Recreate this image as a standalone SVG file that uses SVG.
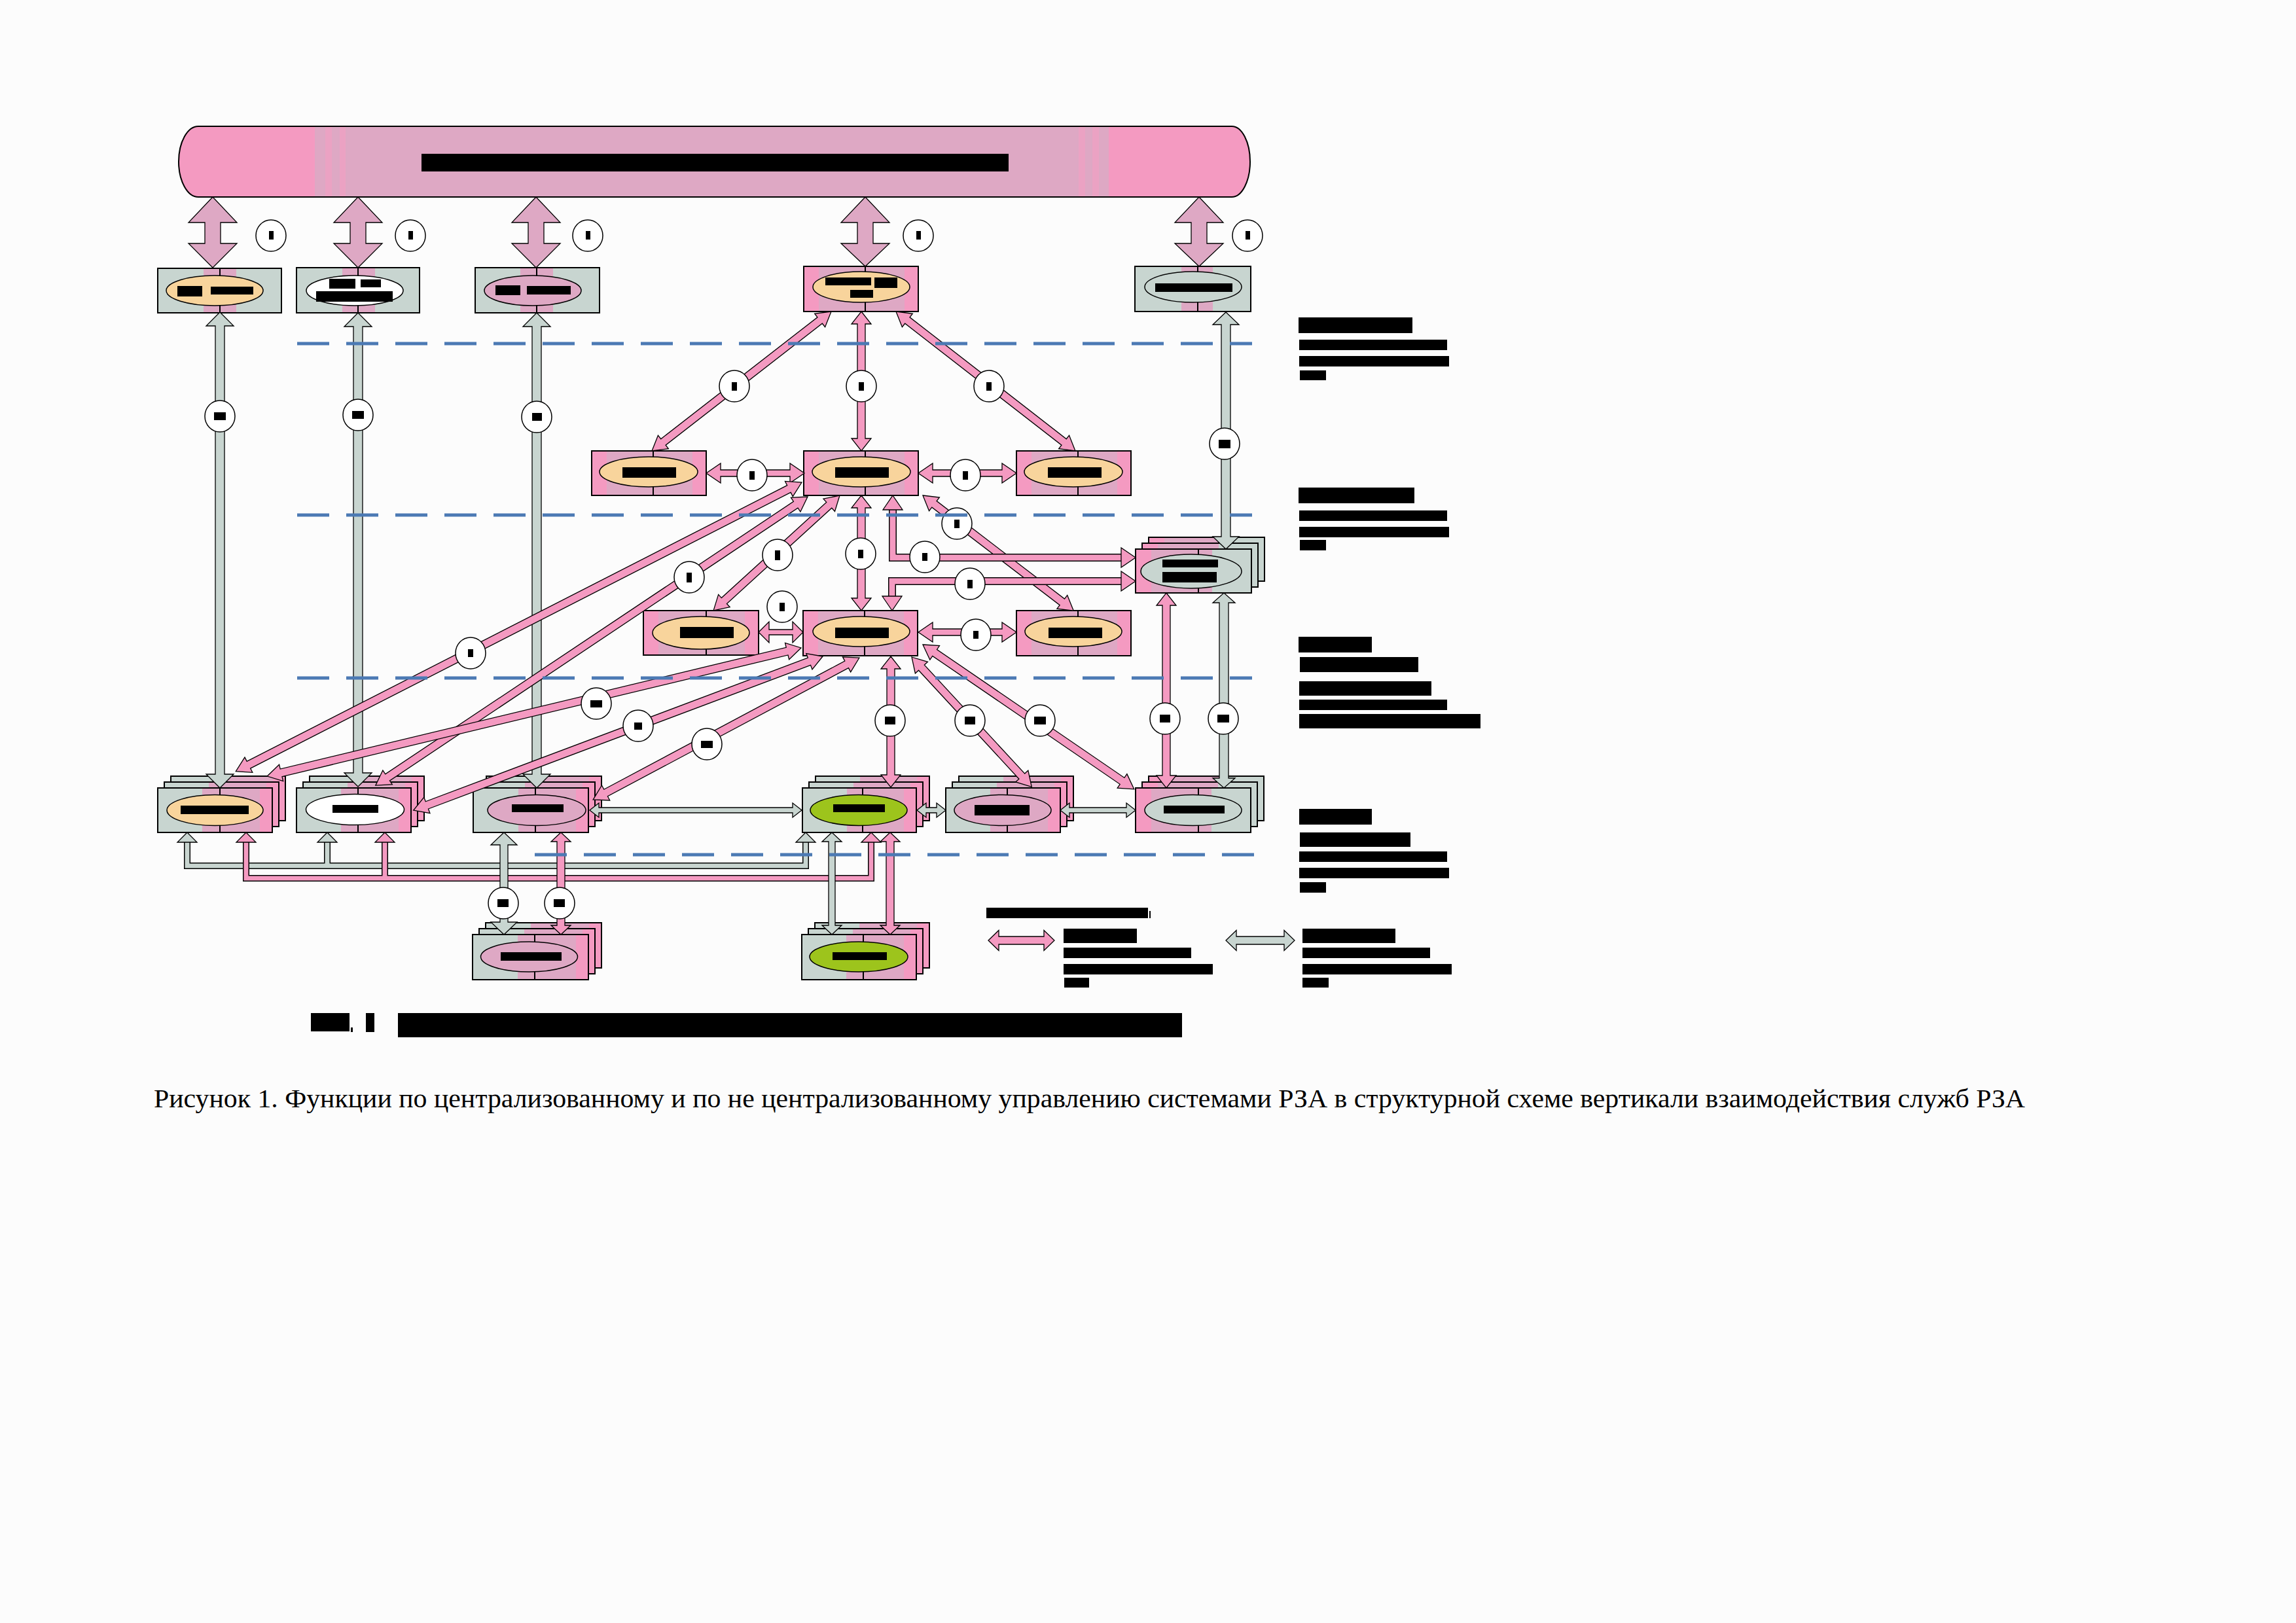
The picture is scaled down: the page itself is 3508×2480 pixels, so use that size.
<svg xmlns="http://www.w3.org/2000/svg" width="3508" height="2480" viewBox="0 0 3508 2480">
<defs>
<style>
.bx{stroke:#000;stroke-width:2}
.el{stroke:#000;stroke-width:1.5}
.cl{stroke:#000;stroke-width:2}
.ap{fill:#F49AC1;stroke:#000;stroke-width:1.3}
.ag{fill:#C8D5D0;stroke:#000;stroke-width:1.3}
.am{fill:#DEA8C4;stroke:#000;stroke-width:1.3}
.lb{fill:#fff;stroke:#000;stroke-width:1.5}
.dl{stroke:#4C7AB4;stroke-width:5;stroke-dasharray:49 26;fill:none}
.k{fill:#000}
.gy{fill:#C8D5D0}.mv{fill:#DEA8C4}.pk{fill:#F49AC1}.or{fill:#F8D49C}.wh{fill:#fff}.gn{fill:#9DC41C}
.fgp{fill:url(#gGP)}.fpg{fill:url(#gPG)}.fpk{fill:url(#gPK)}
.ob{fill:none;stroke:#000;stroke-linejoin:miter}
.cap{font-family:"Liberation Serif","Times New Roman",serif;font-size:39px;fill:#000}
</style>
<linearGradient id="gGP" x1="0" y1="0" x2="1" y2="0">
<stop offset="0" stop-color="#C8D5D0"/><stop offset="0.39" stop-color="#C8D5D0"/>
<stop offset="0.39" stop-color="#DEA8C4"/><stop offset="0.89" stop-color="#DEA8C4"/>
<stop offset="0.89" stop-color="#F49AC1"/><stop offset="1" stop-color="#F49AC1"/>
</linearGradient>
<linearGradient id="gPG" x1="0" y1="0" x2="1" y2="0">
<stop offset="0" stop-color="#F49AC1"/><stop offset="0.135" stop-color="#F49AC1"/>
<stop offset="0.135" stop-color="#DEA8C4"/><stop offset="0.66" stop-color="#DEA8C4"/>
<stop offset="0.66" stop-color="#C8D5D0"/><stop offset="1" stop-color="#C8D5D0"/>
</linearGradient>
<linearGradient id="gPK" x1="0" y1="0" x2="1" y2="0">
<stop offset="0" stop-color="#F49AC1"/><stop offset="0.13" stop-color="#F49AC1"/>
<stop offset="0.13" stop-color="#DEA8C4"/><stop offset="0.88" stop-color="#DEA8C4"/>
<stop offset="0.88" stop-color="#F49AC1"/><stop offset="1" stop-color="#F49AC1"/>
</linearGradient>
<linearGradient id="gBN" x1="0" y1="0" x2="1" y2="0">
<stop offset="0" stop-color="#F49AC1"/><stop offset="0.127" stop-color="#F49AC1"/>
<stop offset="0.127" stop-color="#DEA8C4"/><stop offset="0.137" stop-color="#DEA8C4"/>
<stop offset="0.137" stop-color="#EBA2C3"/><stop offset="0.143" stop-color="#EBA2C3"/>
<stop offset="0.143" stop-color="#DEA8C4"/><stop offset="0.150" stop-color="#DEA8C4"/>
<stop offset="0.150" stop-color="#EBA2C3"/><stop offset="0.156" stop-color="#EBA2C3"/>
<stop offset="0.156" stop-color="#DEA8C4"/><stop offset="0.840" stop-color="#DEA8C4"/>
<stop offset="0.840" stop-color="#EBA2C3"/><stop offset="0.846" stop-color="#EBA2C3"/>
<stop offset="0.846" stop-color="#DEA8C4"/><stop offset="0.853" stop-color="#DEA8C4"/>
<stop offset="0.853" stop-color="#EBA2C3"/><stop offset="0.859" stop-color="#EBA2C3"/>
<stop offset="0.859" stop-color="#DEA8C4"/><stop offset="0.868" stop-color="#DEA8C4"/>
<stop offset="0.868" stop-color="#F49AC1"/><stop offset="1" stop-color="#F49AC1"/>
</linearGradient>
</defs>

<rect x="0" y="0" width="3508" height="2480" fill="#FCFCFC"/>

<!-- banner -->
<g id="banner">
<path class="bx" fill="url(#gBN)" d="M303 193 H1882 A28 54 0 0 1 1882 301 H303 A30 54 0 0 1 303 193 Z"/>
<rect class="k" x="644" y="235" width="897" height="27"/>
</g>

<!-- top row nodes -->
<g id="n1">
<rect class="bx gy" x="241" y="410" width="189" height="68"/>
<rect class="mv" x="311" y="411" width="50" height="66"/>
<line class="cl" x1="336" y1="410" x2="336" y2="478"/>
<ellipse class="el or" cx="328" cy="444" rx="74" ry="23"/>
<rect class="k" x="271" y="437" width="38" height="16"/>
<rect class="k" x="322" y="438" width="65" height="12"/>
</g>
<g id="n2">
<rect class="bx gy" x="453" y="409" width="188" height="69"/>
<rect class="mv" x="523" y="410" width="50" height="67"/>
<line class="cl" x1="547" y1="409" x2="547" y2="478"/>
<ellipse class="el wh" cx="542" cy="444" rx="74" ry="23"/>
<rect class="k" x="503" y="426" width="40" height="15"/>
<rect class="k" x="551" y="427" width="31" height="12"/>
<rect class="k" x="483" y="445" width="117" height="16"/>
</g>
<g id="n3">
<rect class="bx gy" x="726" y="409" width="190" height="69"/>
<rect class="mv" x="795" y="410" width="50" height="67"/>
<line class="cl" x1="820" y1="409" x2="820" y2="478"/>
<ellipse class="el mv" cx="814" cy="444" rx="74" ry="23"/>
<rect class="k" x="757" y="436" width="38" height="15"/>
<rect class="k" x="805" y="437" width="67" height="13"/>
</g>
<g id="n4">
<rect class="bx fpk" x="1228" y="407" width="175" height="69"/>
<line class="cl" x1="1322" y1="407" x2="1322" y2="476"/>
<ellipse class="el or" cx="1316" cy="438.5" rx="74" ry="23.5"/>
<rect class="k" x="1261" y="424" width="70" height="12"/>
<rect class="k" x="1336" y="424" width="35" height="16"/>
<rect class="k" x="1299" y="443" width="35" height="12"/>
</g>
<g id="n5">
<rect class="bx gy" x="1734" y="407" width="177" height="69"/>
<rect class="mv" x="1805" y="408" width="48" height="67"/>
<line class="cl" x1="1830" y1="407" x2="1830" y2="476"/>
<ellipse class="el gy" cx="1823" cy="438.5" rx="74" ry="23.5"/>
<rect class="k" x="1765" y="433" width="118" height="13"/>
</g>

<!-- middle row -->
<g id="m1">
<rect class="bx fpk" x="904" y="689" width="175" height="68"/>
<line class="cl" x1="998" y1="689" x2="998" y2="757"/>
<ellipse class="el or" cx="991" cy="721" rx="75" ry="23"/>
<rect class="k" x="951" y="714" width="82" height="16"/>
</g>
<g id="m2">
<rect class="bx fpk" x="1228" y="689" width="175" height="68"/>
<line class="cl" x1="1322" y1="689" x2="1322" y2="757"/>
<ellipse class="el or" cx="1316" cy="721" rx="75" ry="23"/>
<rect class="k" x="1276" y="714" width="82" height="16"/>
</g>
<g id="m3">
<rect class="bx fpk" x="1553" y="689" width="175" height="68"/>
<line class="cl" x1="1647" y1="689" x2="1647" y2="757"/>
<ellipse class="el or" cx="1640" cy="721" rx="75" ry="23"/>
<rect class="k" x="1601" y="714" width="82" height="16"/>
</g>
<g id="l1">
<rect class="bx fpk" x="983" y="933" width="176" height="68"/>
<line class="cl" x1="1079" y1="933" x2="1079" y2="1001"/>
<ellipse class="el or" cx="1071" cy="967" rx="74" ry="25"/>
<rect class="k" x="1039" y="958" width="82" height="17"/>
</g>
<g id="l2">
<rect class="bx fpk" x="1227" y="933" width="175" height="69"/>
<line class="cl" x1="1321" y1="933" x2="1321" y2="1002"/>
<ellipse class="el or" cx="1316" cy="965" rx="74" ry="23"/>
<rect class="k" x="1276" y="959" width="82" height="16"/>
</g>
<g id="l3">
<rect class="bx fpk" x="1553" y="933" width="175" height="69"/>
<line class="cl" x1="1647" y1="933" x2="1647" y2="1002"/>
<ellipse class="el or" cx="1640" cy="965" rx="74" ry="23"/>
<rect class="k" x="1602" y="959" width="82" height="16"/>
</g>
<g id="r1">
<rect class="bx fpg" x="1755" y="821" width="177" height="67"/>
<rect class="bx fpg" x="1745" y="830" width="177" height="67"/>
<rect class="bx fpg" x="1735" y="839" width="177" height="67"/>
<line class="cl" x1="1831" y1="839" x2="1831" y2="906"/>
<ellipse class="el gy" cx="1820" cy="873" rx="77" ry="26"/>
<rect class="k" x="1776" y="855" width="85" height="12"/>
<rect class="k" x="1776" y="874" width="83" height="16"/>
</g>

<!-- bottom row -->
<g id="b1">
<rect class="bx fgp" x="261" y="1186" width="175" height="68"/>
<rect class="bx fgp" x="251" y="1195" width="175" height="68"/>
<rect class="bx fgp" x="241" y="1204" width="175" height="68"/>
<line class="cl" x1="336" y1="1204" x2="336" y2="1272"/>
<ellipse class="el or" cx="328.5" cy="1238" rx="73.5" ry="23.5"/>
<rect class="k" x="276" y="1231" width="104" height="13"/>
</g>
<g id="b2">
<rect class="bx fgp" x="473" y="1186" width="175" height="68"/>
<rect class="bx fgp" x="463" y="1195" width="175" height="68"/>
<rect class="bx fgp" x="453" y="1204" width="175" height="68"/>
<line class="cl" x1="547" y1="1204" x2="547" y2="1272"/>
<ellipse class="el wh" cx="542.5" cy="1237" rx="75" ry="23.5"/>
<rect class="k" x="508" y="1230" width="70" height="12"/>
</g>
<g id="b3">
<rect class="bx fgp" x="743" y="1186" width="176" height="68"/>
<rect class="bx fgp" x="733" y="1195" width="176" height="68"/>
<rect class="bx fgp" x="723" y="1204" width="176" height="68"/>
<line class="cl" x1="818" y1="1204" x2="818" y2="1272"/>
<ellipse class="el mv" cx="820" cy="1238" rx="75" ry="23.5"/>
<rect class="k" x="782" y="1229" width="79" height="12"/>
</g>
<g id="b4">
<rect class="bx fgp" x="1246" y="1186" width="174" height="68"/>
<rect class="bx fgp" x="1236" y="1195" width="174" height="68"/>
<rect class="bx fgp" x="1226" y="1204" width="174" height="68"/>
<line class="cl" x1="1318" y1="1204" x2="1318" y2="1272"/>
<ellipse class="el gn" cx="1312" cy="1238" rx="74" ry="23.5"/>
<rect class="k" x="1273" y="1229" width="79" height="12"/>
</g>
<g id="b5">
<rect class="bx fgp" x="1465" y="1186" width="175" height="68"/>
<rect class="bx fgp" x="1455" y="1195" width="175" height="68"/>
<rect class="bx fgp" x="1445" y="1204" width="175" height="68"/>
<line class="cl" x1="1539" y1="1204" x2="1539" y2="1272"/>
<ellipse class="el mv" cx="1532" cy="1238" rx="74" ry="23.5"/>
<rect class="k" x="1489" y="1230" width="84" height="16"/>
</g>
<g id="b6">
<rect class="bx fpg" x="1755" y="1186" width="176" height="68"/>
<rect class="bx fpg" x="1745" y="1195" width="176" height="68"/>
<rect class="bx fpg" x="1735" y="1204" width="176" height="68"/>
<line class="cl" x1="1831" y1="1204" x2="1831" y2="1272"/>
<ellipse class="el gy" cx="1823" cy="1238" rx="74" ry="23.5"/>
<rect class="k" x="1778" y="1231" width="93" height="12"/>
</g>
<g id="b7">
<rect class="bx fgp" x="742" y="1410" width="177" height="69"/>
<rect class="bx fgp" x="732" y="1419" width="177" height="69"/>
<rect class="bx fgp" x="722" y="1428" width="177" height="69"/>
<line class="cl" x1="817" y1="1428" x2="817" y2="1497"/>
<ellipse class="el mv" cx="808.5" cy="1462" rx="74" ry="23"/>
<rect class="k" x="765" y="1455" width="93" height="13"/>
</g>
<g id="b8">
<rect class="bx fgp" x="1245" y="1410" width="175" height="69"/>
<rect class="bx fgp" x="1235" y="1419" width="175" height="69"/>
<rect class="bx fgp" x="1225" y="1428" width="175" height="69"/>
<line class="cl" x1="1319" y1="1428" x2="1319" y2="1497"/>
<ellipse class="el gn" cx="1312" cy="1462" rx="75" ry="23"/>
<rect class="k" x="1272" y="1455" width="83" height="12"/>
</g>

<!-- connectors -->
<g id="connectors">
<!-- banner arrows -->
<polygon class="am" points="325,301 362,340 337,340 337,372 362,372 325,409 288,372 313,372 313,340 288,340"/>
<polygon class="am" points="547,301 584,340 559,340 559,372 584,372 547,409 510,372 535,372 535,340 510,340"/>
<polygon class="am" points="819,301 856,340 831,340 831,372 856,372 819,409 782,372 807,372 807,340 782,340"/>
<polygon class="am" points="1322,301 1359,340 1334,340 1334,372 1359,372 1322,407 1285,372 1310,372 1310,340 1285,340"/>
<polygon class="am" points="1832,301 1869,340 1844,340 1844,372 1869,372 1832,407 1795,372 1820,372 1820,340 1795,340"/>

<!-- gray long verticals -->
<polygon class="ag" transform="translate(336 477) rotate(90)" points="0,0 21,-21 21,-7 706,-7 706,-21 727,0 706,21 706,7 21,7 21,21"/>
<polygon class="ag" transform="translate(547 478) rotate(90)" points="0,0 21,-21 21,-7 703,-7 703,-21 724,0 703,21 703,7 21,7 21,21"/>
<polygon class="ag" transform="translate(820 478) rotate(90)" points="0,0 21,-21 21,-7 705,-7 705,-21 726,0 705,21 705,7 21,7 21,21"/>
<polygon class="ag" transform="translate(1873 477) rotate(90)" points="0,0 19,-20 19,-7 343,-7 343,-20 362,0 343,20 343,7 19,7 19,20"/>
<polygon class="ag" transform="translate(1870 906) rotate(90)" points="0,0 15,-17 15,-7 283,-7 283,-17 298,0 283,17 283,7 15,7 15,17"/>
<!-- gray horizontals bottom row -->
<polygon class="ag" transform="translate(901 1238)" points="0,0 14,-11 14,-4 310,-4 310,-11 324,0 310,11 310,4 14,4 14,11"/>
<polygon class="ag" transform="translate(1401 1238)" points="0,0 14,-11 14,-4 30,-4 30,-11 44,0 30,11 30,4 14,4 14,11"/>
<polygon class="ag" transform="translate(1620 1238)" points="0,0 14,-11 14,-4 101,-4 101,-11 115,0 101,11 101,4 14,4 14,11"/>

<!-- gray bus -->
<path class="ob" stroke-width="10" d="M286 1286 V1323 H1231 V1286 M500 1323 V1286"/>
<path fill="none" stroke="#C8D5D0" stroke-width="7" stroke-linejoin="miter" d="M286 1286 V1323 H1231 V1286 M500 1323 V1286"/>
<polygon class="ag" points="286,1272 301,1287 271,1287"/>
<polygon class="ag" points="500,1272 515,1287 485,1287"/>
<polygon class="ag" points="1231,1272 1246,1287 1216,1287"/>
<!-- pink bus -->
<path class="ob" stroke-width="10" d="M376 1286 V1342 H1331 V1286 M588 1342 V1286"/>
<path fill="none" stroke="#F49AC1" stroke-width="7" stroke-linejoin="miter" d="M376 1286 V1342 H1331 V1286 M588 1342 V1286"/>
<polygon class="ap" points="376,1272 391,1287 361,1287"/>
<polygon class="ap" points="588,1272 603,1287 573,1287"/>
<polygon class="ap" points="1331,1272 1346,1287 1316,1287"/>

<!-- B3/B4 down to B7/B8 -->
<polygon class="ag" transform="translate(770 1272) rotate(90)" points="0,0 19,-20 19,-6 137,-6 137,-20 156,0 137,20 137,6 19,6 19,20"/>
<polygon class="ap" transform="translate(857 1272) rotate(90)" points="0,0 14,-15 14,-6 142,-6 142,-15 156,0 142,15 142,6 14,6 14,15"/>
<polygon class="ag" transform="translate(1271 1272) rotate(90)" points="0,0 14,-15 14,-5 142,-5 142,-15 156,0 142,15 142,5 14,5 14,15"/>
<polygon class="ap" transform="translate(1360 1272) rotate(90)" points="0,0 14,-15 14,-6 142,-6 142,-15 156,0 142,15 142,6 14,6 14,15"/>

<!-- pink diagonals and verticals -->
<polygon class="ap" transform="translate(1270 476) rotate(142.14)" points="0,0 22,-13 22,-6 325,-6 325,-13 347,0 325,13 325,6 22,6 22,13"/>
<polygon class="ap" transform="translate(1316 476) rotate(90)" points="0,0 19,-15 19,-6 194,-6 194,-15 213,0 194,15 194,6 19,6 19,15"/>
<polygon class="ap" transform="translate(1369 476) rotate(37.86)" points="0,0 22,-13 22,-6 325,-6 325,-13 347,0 325,13 325,6 22,6 22,13"/>
<polygon class="ap" transform="translate(1079 723)" points="0,0 22,-15 22,-5 128,-5 128,-15 150,0 128,15 128,5 22,5 22,15"/>
<polygon class="ap" transform="translate(1403 723)" points="0,0 22,-15 22,-5 128,-5 128,-15 150,0 128,15 128,5 22,5 22,15"/>
<polygon class="ap" transform="translate(1316 757) rotate(90)" points="0,0 19,-15 19,-6 157,-6 157,-15 176,0 157,15 157,6 19,6 19,15"/>
<polygon class="ap" transform="translate(1410 757) rotate(37.43)" points="0,0 22,-13 22,-6 268,-6 268,-13 290,0 268,13 268,6 22,6 22,13"/>
<polygon class="ap" transform="translate(1283 757) rotate(137.64)" points="0,0 22,-13 22,-6 239,-6 239,-13 261,0 239,13 239,6 22,6 22,13"/>
<polygon class="ap" transform="translate(1225 737) rotate(152.94)" points="0,0 22,-13 22,-6 949,-6 949,-13 971,0 949,13 949,6 22,6 22,13"/>
<polygon class="ap" transform="translate(1234 759) rotate(146.25)" points="0,0 22,-13 22,-6 772,-6 772,-13 794,0 772,13 772,6 22,6 22,13"/>
<polygon class="ap" transform="translate(1159 966)" points="0,0 16,-16 16,-4 52,-4 52,-16 68,0 52,16 52,4 16,4 16,16"/>
<polygon class="ap" transform="translate(1403 966)" points="0,0 22,-15 22,-5 128,-5 128,-15 150,0 128,15 128,5 22,5 22,15"/>
<polygon class="ap" transform="translate(1224 990) rotate(166.49)" points="0,0 22,-13 22,-6 817,-6 817,-13 839,0 817,13 817,6 22,6 22,13"/>
<polygon class="ap" transform="translate(1257 1003) rotate(159.39)" points="0,0 22,-13 22,-6 646,-6 646,-13 668,0 646,13 646,6 22,6 22,13"/>
<polygon class="ap" transform="translate(1313 1005) rotate(151.94)" points="0,0 22,-13 22,-6 439,-6 439,-13 461,0 439,13 439,6 22,6 22,13"/>
<polygon class="ap" transform="translate(1361 1003) rotate(90)" points="0,0 19,-15 19,-6 181,-6 181,-15 200,0 181,15 181,6 19,6 19,15"/>
<polygon class="ap" transform="translate(1393 1004) rotate(47.26)" points="0,0 22,-13 22,-6 248,-6 248,-13 270,0 248,13 248,6 22,6 22,13"/>
<polygon class="ap" transform="translate(1410 985) rotate(34.38)" points="0,0 22,-13 22,-6 369,-6 369,-13 391,0 369,13 369,6 22,6 22,13"/>
<polygon class="ap" transform="translate(1782 906) rotate(90)" points="0,0 19,-15 19,-6 279,-6 279,-15 298,0 279,15 279,6 19,6 19,15"/>

<!-- bent pink arrows to R1 -->
<path class="ob" stroke-width="12" d="M1364 778 V852 H1714"/>
<path fill="none" stroke="#F49AC1" stroke-width="9" stroke-linejoin="miter" d="M1364 778 V852 H1714"/>
<polygon class="ap" points="1364,757 1379,779 1349,779"/>
<polygon class="ap" points="1735,852 1713,837 1713,867"/>
<path class="ob" stroke-width="12" d="M1363 912 V888 H1714"/>
<path fill="none" stroke="#F49AC1" stroke-width="9" stroke-linejoin="miter" d="M1363 912 V888 H1714"/>
<polygon class="ap" points="1363,933 1348,911 1378,911"/>
<polygon class="ap" points="1735,888 1713,873 1713,903"/>
</g>

<!-- connector labels -->
<g id="connector-labels">
<ellipse class="lb" cx="414" cy="360" rx="23" ry="24"/><rect class="k" x="411" y="353" width="7" height="13"/>
<ellipse class="lb" cx="627" cy="360" rx="23" ry="24"/><rect class="k" x="624" y="353" width="7" height="13"/>
<ellipse class="lb" cx="898" cy="360" rx="23" ry="24"/><rect class="k" x="895" y="353" width="7" height="13"/>
<ellipse class="lb" cx="1403" cy="360" rx="23" ry="24"/><rect class="k" x="1400" y="353" width="7" height="13"/>
<ellipse class="lb" cx="1906" cy="360" rx="23" ry="24"/><rect class="k" x="1903" y="353" width="7" height="13"/>

<ellipse class="lb" cx="1122" cy="590" rx="23" ry="24"/><rect class="k" x="1118" y="584" width="8" height="13"/>
<ellipse class="lb" cx="1316" cy="590" rx="23" ry="24"/><rect class="k" x="1312" y="584" width="8" height="13"/>
<ellipse class="lb" cx="1511" cy="590" rx="23" ry="24"/><rect class="k" x="1507" y="584" width="8" height="13"/>

<ellipse class="lb" cx="336" cy="636" rx="23" ry="24"/><rect class="k" x="327" y="630" width="18" height="12"/>
<ellipse class="lb" cx="547" cy="634" rx="23" ry="24"/><rect class="k" x="538" y="628" width="18" height="12"/>
<ellipse class="lb" cx="820" cy="637" rx="23" ry="24"/><rect class="k" x="813" y="631" width="15" height="12"/>
<ellipse class="lb" cx="1871" cy="678" rx="23" ry="24"/><rect class="k" x="1862" y="672" width="18" height="13"/>

<ellipse class="lb" cx="1149" cy="726" rx="23" ry="24"/><rect class="k" x="1145" y="720" width="8" height="13"/>
<ellipse class="lb" cx="1475" cy="726" rx="23" ry="24"/><rect class="k" x="1471" y="720" width="8" height="13"/>
<ellipse class="lb" cx="1462" cy="800" rx="23" ry="24"/><rect class="k" x="1458" y="794" width="8" height="13"/>
<ellipse class="lb" cx="1053" cy="882" rx="23" ry="24"/><rect class="k" x="1049" y="875" width="8" height="15"/>
<ellipse class="lb" cx="1188" cy="848" rx="23" ry="24"/><rect class="k" x="1184" y="841" width="8" height="15"/>
<ellipse class="lb" cx="1315" cy="846" rx="23" ry="24"/><rect class="k" x="1311" y="840" width="8" height="13"/>
<ellipse class="lb" cx="1413" cy="851" rx="23" ry="24"/><rect class="k" x="1409" y="845" width="8" height="12"/>
<ellipse class="lb" cx="1482" cy="892" rx="23" ry="24"/><rect class="k" x="1478" y="886" width="8" height="13"/>
<ellipse class="lb" cx="1195" cy="927" rx="23" ry="24"/><rect class="k" x="1191" y="921" width="8" height="13"/>
<ellipse class="lb" cx="1491" cy="970" rx="23" ry="24"/><rect class="k" x="1487" y="964" width="8" height="12"/>
<ellipse class="lb" cx="719" cy="998" rx="23" ry="24"/><rect class="k" x="715" y="992" width="8" height="12"/>
<ellipse class="lb" cx="911" cy="1075" rx="23" ry="24"/><rect class="k" x="902" y="1070" width="18" height="11"/>
<ellipse class="lb" cx="975" cy="1109" rx="23" ry="24"/><rect class="k" x="969" y="1104" width="12" height="11"/>
<ellipse class="lb" cx="1080" cy="1137" rx="23" ry="24"/><rect class="k" x="1071" y="1132" width="18" height="11"/>
<ellipse class="lb" cx="1360" cy="1101" rx="23" ry="24"/><rect class="k" x="1352" y="1095" width="16" height="12"/>
<ellipse class="lb" cx="1482" cy="1101" rx="23" ry="24"/><rect class="k" x="1474" y="1095" width="16" height="12"/>
<ellipse class="lb" cx="1589" cy="1101" rx="23" ry="24"/><rect class="k" x="1580" y="1095" width="18" height="12"/>
<ellipse class="lb" cx="1780" cy="1098" rx="23" ry="24"/><rect class="k" x="1772" y="1092" width="16" height="12"/>
<ellipse class="lb" cx="1869" cy="1098" rx="23" ry="24"/><rect class="k" x="1860" y="1092" width="18" height="12"/>
<ellipse class="lb" cx="769" cy="1380" rx="23" ry="24"/><rect class="k" x="760" y="1374" width="17" height="12"/>
<ellipse class="lb" cx="855" cy="1380" rx="23" ry="24"/><rect class="k" x="846" y="1374" width="17" height="12"/>
</g>

<!-- dashed level lines -->
<g id="levels">
<line class="dl" x1="454" y1="525" x2="1913" y2="525"/>
<line class="dl" x1="454" y1="787" x2="1913" y2="787"/>
<line class="dl" x1="454" y1="1036" x2="1913" y2="1036"/>
<line class="dl" x1="817" y1="1306" x2="1922" y2="1306"/>
</g>

<!-- right side level texts (redacted) -->
<g id="level-texts">
<rect class="k" x="1984" y="485" width="174" height="24"/>
<rect class="k" x="1985" y="519" width="226" height="16"/>
<rect class="k" x="1985" y="544" width="229" height="16"/>
<rect class="k" x="1986" y="566" width="40" height="15"/>

<rect class="k" x="1984" y="745" width="177" height="24"/>
<rect class="k" x="1985" y="780" width="226" height="16"/>
<rect class="k" x="1985" y="805" width="229" height="16"/>
<rect class="k" x="1986" y="825" width="40" height="16"/>

<rect class="k" x="1984" y="973" width="112" height="24"/>
<rect class="k" x="1986" y="1004" width="181" height="23"/>
<rect class="k" x="1985" y="1041" width="202" height="22"/>
<rect class="k" x="1985" y="1069" width="226" height="16"/>
<rect class="k" x="1985" y="1091" width="277" height="22"/>

<rect class="k" x="1985" y="1236" width="111" height="24"/>
<rect class="k" x="1986" y="1272" width="169" height="22"/>
<rect class="k" x="1985" y="1301" width="226" height="16"/>
<rect class="k" x="1985" y="1326" width="229" height="16"/>
<rect class="k" x="1986" y="1348" width="40" height="16"/>
</g>

<!-- legend -->
<g id="legend">
<rect class="k" x="1507" y="1387" width="247" height="16"/>
<rect class="k" x="1756" y="1392" width="2" height="11"/>
<polygon class="ap" transform="translate(1510 1437)" points="0,0 16,-15.5 16,-6 85,-6 85,-15.5 101,0 85,15.5 85,6 16,6 16,15.5"/>
<rect class="k" x="1625" y="1419" width="112" height="22"/>
<rect class="k" x="1625" y="1448" width="195" height="16"/>
<rect class="k" x="1625" y="1473" width="228" height="16"/>
<rect class="k" x="1626" y="1494" width="38" height="15"/>
<polygon class="ag" transform="translate(1873 1437)" points="0,0 16,-15.5 16,-6 89,-6 89,-15.5 105,0 89,15.5 89,6 16,6 16,15.5"/>
<rect class="k" x="1990" y="1419" width="142" height="22"/>
<rect class="k" x="1990" y="1448" width="195" height="16"/>
<rect class="k" x="1990" y="1473" width="228" height="16"/>
<rect class="k" x="1990" y="1494" width="40" height="15"/>
</g>

<!-- figure title (redacted) -->
<g id="figure-title">
<rect class="k" x="475" y="1548" width="59" height="28"/>
<rect class="k" x="536" y="1570" width="3" height="7"/>
<rect class="k" x="559" y="1548" width="13" height="29"/>
<rect class="k" x="608" y="1548" width="1198" height="37"/>
</g>

<text class="cap" x="235" y="1692" textLength="2859" lengthAdjust="spacingAndGlyphs">Рисунок 1. Функции по централизованному и по не централизованному управлению системами РЗА в структурной схеме вертикали взаимодействия служб РЗА</text>
</svg>
